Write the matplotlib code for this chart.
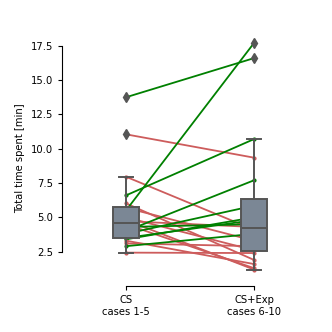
import numpy as np
import matplotlib
matplotlib.use("Agg")
import matplotlib.pyplot as plt

# Werte pro Teilnehmer (Minuten)
cs_times = [13.75, 11.05, 7.96, 6.6, 6.02, 5.7, 5.5, 5.0, 4.8, 4.72,
            4.5, 4.3, 4.0, 3.8, 3.5, 3.4, 3.3, 3.1, 2.9, 2.43]
csexp_times = [16.6, 9.35, 4.1, 10.7, 1.9, 3.3, 17.7, 2.6, 1.2, 4.3,
               1.3, 4.5, 7.7, 5.85, 4.8, 5.0, 1.6, 2.9, 3.8, 2.4]
group_labels = ["CS\ncases 1-5", "CS+Exp\ncases 6-10"]
y_ticks = [2.5, 5.0, 7.5, 10.0, 12.5, 15.0, 17.5]

fig = plt.figure(figsize=(3.32, 3.32), dpi=100)
ax = fig.add_axes([0.1867, 0.1386, 0.771, 0.771])

positions = [0, 1]

# Verbindungslinien: gruen = mehr Zeit, rot = weniger Zeit
for a, b in zip(cs_times, csexp_times):
    col = "green" if b > a else "indianred"
    ax.plot(positions, [a, b], color=col, lw=1.3, marker="o", ms=2,
            zorder=1)

edge = "#555555"
ax.boxplot([cs_times, csexp_times], positions=positions, widths=0.21,
           patch_artist=True, whis=1.5,
           boxprops=dict(facecolor="#7b8795", edgecolor=edge, lw=1.4),
           medianprops=dict(color=edge, lw=1.4),
           whiskerprops=dict(color=edge, lw=1.4),
           capprops=dict(color=edge, lw=1.4),
           flierprops=dict(marker="d", markerfacecolor=edge,
                           markeredgecolor=edge, markersize=5),
           zorder=3)

ax.set_xlim(-0.5, 1.5)
ax.set_ylim(0, 18.65)
ax.set_xticks(positions)
ax.set_xticklabels(group_labels, fontsize=7.2)
ax.set_yticks(y_ticks)
ax.set_yticklabels([f"{t:.1f}" for t in y_ticks], fontsize=7.2)
ax.set_ylabel("Total time spent [min]", fontsize=7.2)

# Achsen wie seaborn despine(trim=True)
ax.spines["top"].set_visible(False)
ax.spines["right"].set_visible(False)
ax.spines["left"].set_bounds(2.5, 17.5)
ax.spines["bottom"].set_bounds(0, 1)
ax.tick_params(length=3, width=0.8)

fig.savefig("out.png", dpi=100)
